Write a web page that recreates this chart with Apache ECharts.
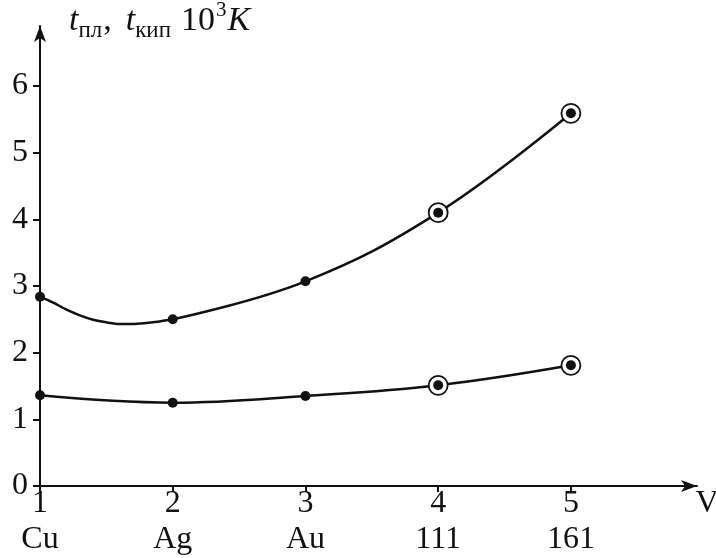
<!DOCTYPE html>
<html>
<head>
<meta charset="utf-8">
<script src="https://cdn.jsdelivr.net/npm/echarts@6/dist/echarts.min.js"></script>
<style>
  html, body { margin: 0; padding: 0; background: #fff; }
  #main { width: 716px; height: 558px; }
</style>
</head>
<body>
<div id="main"></div>
<script>
// values
var elements = ['Cu', 'Ag', 'Au', '111', '161'];
var valence = [1, 2, 3, 4, 5];
var boilTemp = [2.84, 2.50, 3.07, 4.10, 5.59];   // t кип, 10^3 K
var meltTemp = [1.36, 1.25, 1.35, 1.51, 1.81];   // t пл, 10^3 K
var circled = ['111', '161'];
// points traced along the upper curve between Cu and Ag, where it dips
var boilTraceX = [1.1, 1.2, 1.3, 1.4, 1.5, 1.6, 1.7, 1.8, 1.9];
var boilTraceY = [2.75, 2.645, 2.56, 2.495, 2.455, 2.43, 2.43, 2.445, 2.468];
var yTicks = [0, 1, 2, 3, 4, 5, 6];

var font = 'Liberation Serif';

function pairs(xs, ys) {
  return xs.map(function (x, i) { return [x, ys[i]]; });
}
function ringed(ys) {
  var out = [];
  elements.forEach(function (e, i) {
    if (circled.indexOf(e) >= 0) out.push([valence[i], ys[i]]);
  });
  return out;
}

var boilPts = pairs(valence, boilTemp);
// Cu -> traced dip -> Ag, then Ag onwards through the measured points
var boilDip = [boilPts[0]].concat(pairs(boilTraceX, boilTraceY), [boilPts[1]]);
var boilRest = boilPts.slice(1);

var chart = echarts.init(document.getElementById('main'));

var lineStyle = { color: '#111', width: 2.5 };
var txt = { fontFamily: font, fontWeight: 'normal', color: '#111' };

chart.setOption({
  animation: false,
  title: {
    left: 64,
    top: -5,
    text: '{t|t}{sub|пл}{c|,}{t|t}{sub2|кип}{n|10}{sup|3}{k|K}',
    textStyle: {
      fontWeight: 'normal',
      rich: {
        t: Object.assign({ fontStyle: 'italic', fontSize: 34, lineHeight: 42 }, txt),
        k: Object.assign({ fontStyle: 'italic', fontSize: 34, lineHeight: 42, padding: [0, 0, 0, 1] }, txt),
        n: Object.assign({ fontSize: 34, lineHeight: 42 }, txt),
        c: Object.assign({ fontSize: 34, lineHeight: 42, padding: [0, 14, 0, 1] }, txt),
        sub: Object.assign({ fontSize: 23, lineHeight: 42, verticalAlign: 'bottom', padding: [12, 0, 0, 0] }, txt),
        sub2: Object.assign({ fontSize: 23, lineHeight: 42, verticalAlign: 'bottom', padding: [12, 10, 0, 0] }, txt),
        sup: Object.assign({ fontSize: 21, lineHeight: 42, verticalAlign: 'top', padding: [0, 0, 12, 1] }, txt)
      }
    }
  },
  grid: { left: 40, right: 19, top: 26, bottom: 72, outerBoundsMode: 'none' },
  xAxis: {
    type: 'value',
    min: 1,
    max: 5.95,
    name: 'V',
    nameLocation: 'end',
    nameGap: 10,
    nameTextStyle: Object.assign({ fontSize: 32, align: 'center', verticalAlign: 'top', padding: [2, 0, 0, 0] }, txt),
    axisLine: { lineStyle: { color: '#111', width: 2 }, symbol: ['none', 'arrow'], symbolSize: [9, 16] },
    axisTick: { customValues: valence, length: 6, lineStyle: { color: '#111', width: 2 } },
    axisLabel: {
      customValues: valence,
      margin: 0,
      formatter: function (v) {
        return '{a|' + v + '}\n{a|' + elements[valence.indexOf(v)] + '}';
      },
      rich: { a: Object.assign({ fontSize: 32, lineHeight: 36 }, txt) }
    },
    splitLine: { show: false }
  },
  yAxis: {
    type: 'value',
    min: 0,
    max: 6.9,
    axisLine: { show: true, lineStyle: { color: '#111', width: 2 }, symbol: ['none', 'arrow'], symbolSize: [9, 16] },
    axisTick: { show: true, customValues: yTicks, length: 7, lineStyle: { color: '#111', width: 2 } },
    axisLabel: Object.assign({ customValues: yTicks, margin: 12, fontSize: 32 }, txt),
    splitLine: { show: false }
  },
  series: [
    {
      type: 'line', smooth: 0.3, symbol: 'none', z: 2,
      data: boilDip, lineStyle: lineStyle
    },
    {
      type: 'line', smooth: 0.4, symbol: 'none', z: 2,
      data: boilRest, lineStyle: lineStyle
    },
    {
      type: 'line', smooth: 0.4, symbol: 'none', z: 2,
      data: pairs(valence, meltTemp), lineStyle: lineStyle
    },
    {
      type: 'scatter', z: 3, symbolSize: 19,
      data: ringed(boilTemp).concat(ringed(meltTemp)),
      itemStyle: { color: '#fff', borderColor: '#111', borderWidth: 1.8, opacity: 1 }
    },
    {
      type: 'scatter', z: 4, symbolSize: 10,
      data: boilPts.concat(pairs(valence, meltTemp)),
      itemStyle: { color: '#111', opacity: 1 }
    }
  ]
});
</script>
</body>
</html>
